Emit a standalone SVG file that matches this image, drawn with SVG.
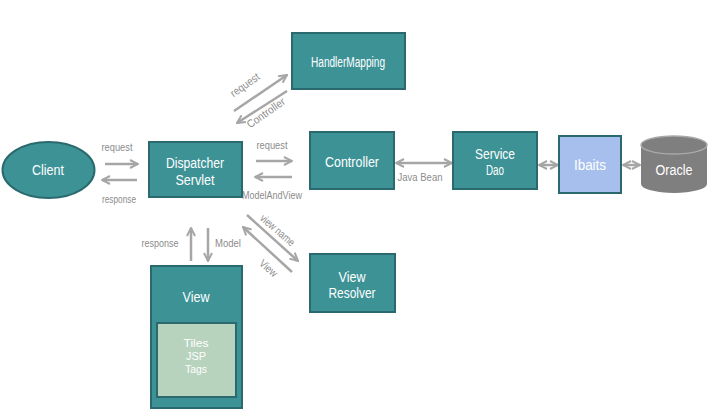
<svg xmlns="http://www.w3.org/2000/svg" width="713" height="414" viewBox="0 0 713 414">
<defs>
<style>
.box{fill:#3d9296;stroke:#2a6a6e;stroke-width:2}
.nt{font-family:"Liberation Sans",Arial,sans-serif;font-size:14px;fill:#ffffff;text-anchor:middle}
.st{font-family:"Liberation Sans",Arial,sans-serif;font-size:11.5px;fill:#ffffff;text-anchor:middle}
.lb{font-family:"Liberation Sans",Arial,sans-serif;font-size:11px;fill:#8c8c8c;text-anchor:middle}
.ar{stroke:#a6a6a6;stroke-width:2.5;fill:none}
</style>
<marker id="ah" viewBox="0 0 10 10" refX="9" refY="5" markerWidth="10" markerHeight="10" markerUnits="userSpaceOnUse" orient="auto-start-reverse">
<polyline points="1,1 9,5 1,9" fill="none" stroke="#a6a6a6" stroke-width="2"/>
</marker>
</defs>
<rect width="713" height="414" fill="#ffffff"/>
<g id="connectors">
<line class="ar" x1="105" y1="164" x2="138" y2="164" marker-end="url(#ah)"/>
<line class="ar" x1="137" y1="180" x2="102" y2="180" marker-end="url(#ah)"/>
<line class="ar" x1="256" y1="161" x2="292" y2="161" marker-end="url(#ah)"/>
<line class="ar" x1="292" y1="177" x2="255" y2="177" marker-end="url(#ah)"/>
<line class="ar" x1="234" y1="111" x2="287" y2="75" marker-end="url(#ah)"/>
<line class="ar" x1="287" y1="91" x2="237" y2="123" marker-end="url(#ah)"/>
<line class="ar" x1="396" y1="163" x2="452" y2="163" marker-start="url(#ah)" marker-end="url(#ah)"/>
<line class="ar" x1="539" y1="165" x2="558" y2="165" marker-start="url(#ah)" marker-end="url(#ah)"/>
<line class="ar" x1="623" y1="165" x2="640" y2="165" marker-start="url(#ah)" marker-end="url(#ah)"/>
<line class="ar" x1="191" y1="261" x2="191" y2="228" marker-end="url(#ah)"/>
<line class="ar" x1="208" y1="228" x2="208" y2="261" marker-end="url(#ah)"/>
<line class="ar" x1="247" y1="215" x2="298" y2="261" marker-end="url(#ah)"/>
<line class="ar" x1="292" y1="272" x2="243" y2="227" marker-end="url(#ah)"/>
<text class="lb" x="117" y="151" textLength="31" lengthAdjust="spacingAndGlyphs">request</text>
<text class="lb" x="119" y="203" textLength="34" lengthAdjust="spacingAndGlyphs">response</text>
<text class="lb" x="272" y="149" textLength="31" lengthAdjust="spacingAndGlyphs">request</text>
<text class="lb" x="272" y="199" textLength="60" lengthAdjust="spacingAndGlyphs">ModelAndView</text>
<text class="lb" x="420" y="181" textLength="45" lengthAdjust="spacingAndGlyphs">Java Bean</text>
<text class="lb" x="160" y="247" textLength="37" lengthAdjust="spacingAndGlyphs">response</text>
<text class="lb" x="228" y="247" textLength="26" lengthAdjust="spacingAndGlyphs">Model</text>
<text class="lb" transform="translate(247,88) rotate(-35)" textLength="33" lengthAdjust="spacingAndGlyphs">request</text>
<text class="lb" transform="translate(268,116) rotate(-35)" textLength="44" lengthAdjust="spacingAndGlyphs">Controller</text>
<text class="lb" transform="translate(275,233) rotate(41)" textLength="42" lengthAdjust="spacingAndGlyphs">view name</text>
<text class="lb" transform="translate(266,271) rotate(41)" textLength="20" lengthAdjust="spacingAndGlyphs">View</text>
</g>
<g id="client">
<ellipse cx="48.5" cy="170" rx="46" ry="28" class="box"/>
<text class="nt" x="48" y="175" textLength="32" lengthAdjust="spacingAndGlyphs">Client</text>
</g>
<g id="dispatcher">
<rect x="149" y="142" width="93" height="55" class="box"/>
<text class="nt" x="195" y="168" textLength="58" lengthAdjust="spacingAndGlyphs">Dispatcher</text>
<text class="nt" x="195" y="185" textLength="39" lengthAdjust="spacingAndGlyphs">Servlet</text>
</g>
<g id="handlermapping">
<rect x="292" y="33" width="113" height="56" class="box"/>
<text class="nt" x="348" y="67" textLength="74" lengthAdjust="spacingAndGlyphs">HandlerMapping</text>
</g>
<g id="controller">
<rect x="310" y="132" width="84" height="57" class="box"/>
<text class="nt" x="352" y="167" textLength="54" lengthAdjust="spacingAndGlyphs">Controller</text>
</g>
<g id="servicedao">
<rect x="453" y="132" width="84" height="57" class="box"/>
<text class="nt" x="495" y="159" textLength="40" lengthAdjust="spacingAndGlyphs">Service</text>
<text class="nt" x="495" y="175" textLength="18" lengthAdjust="spacingAndGlyphs">Dao</text>
</g>
<g id="ibaits">
<rect x="559" y="136" width="62" height="57" fill="#a6bfec" stroke="#2a6a6e" stroke-width="2"/>
<text class="nt" x="590" y="170" textLength="32" lengthAdjust="spacingAndGlyphs">Ibaits</text>
</g>
<g id="oracle">
<path d="M641,145 L641,184 A33,9 0 0 0 707,184 L707,145 Z" fill="#7f7f7f"/>
<ellipse cx="674" cy="145" rx="33" ry="9" fill="#7f7f7f" stroke="#a9a9a9" stroke-width="1.5"/>
<text class="nt" x="674" y="175" textLength="37" lengthAdjust="spacingAndGlyphs">Oracle</text>
</g>
<g id="viewresolver">
<rect x="310" y="254" width="85" height="58" class="box"/>
<text class="nt" x="352" y="282" textLength="27" lengthAdjust="spacingAndGlyphs">View</text>
<text class="nt" x="352" y="298" textLength="47" lengthAdjust="spacingAndGlyphs">Resolver</text>
</g>
<g id="view">
<rect x="151" y="266" width="91" height="142" class="box"/>
<text class="nt" x="196" y="302" textLength="27" lengthAdjust="spacingAndGlyphs">View</text>
<rect x="157" y="323" width="79" height="74" fill="#b7d3bd" stroke="#2a6a6e" stroke-width="2"/>
<text class="st" x="196" y="347" textLength="25" lengthAdjust="spacingAndGlyphs">Tiles</text>
<text class="st" x="196" y="360" textLength="20" lengthAdjust="spacingAndGlyphs">JSP</text>
<text class="st" x="196" y="373" textLength="22" lengthAdjust="spacingAndGlyphs">Tags</text>
</g>
</svg>
